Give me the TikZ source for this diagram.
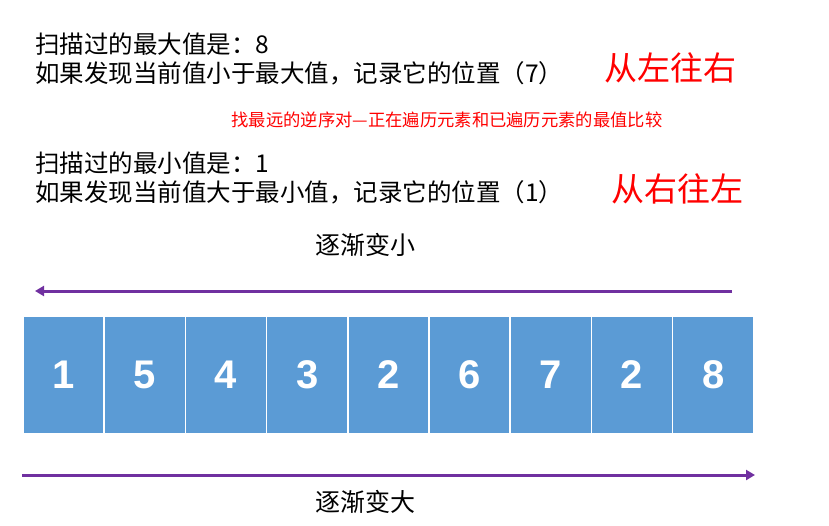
\documentclass[tikz,border=0pt]{standalone}
\usepackage{fontspec}
\usepackage{tikz}
\usetikzlibrary{arrows.meta, positioning}
\newfontfamily\cjk{Noto Sans CJK SC}
\newfontfamily\numfont{Liberation Sans}
\definecolor{cellblue}{RGB}{91,155,213}
\definecolor{arrowpurple}{RGB}{112,48,160}
\definecolor{hintred}{RGB}{255,0,0}

\begin{document}
\begin{tikzpicture}[
    x=1pt, y=-1pt,
    >={Triangle[length=9pt, width=10pt]},
    cell/.style={fill=cellblue, draw=white, line width=1.5pt, minimum width=81.2pt, minimum height=118pt, inner sep=0pt, outer sep=0pt, font=\numfont\fontsize{40}{40}\selectfont\bfseries, text=white},
    note/.style={anchor=west, align=left, inner sep=0pt, font=\cjk\fontsize{24.5}{29}\selectfont},
    dir/.style={inner sep=0pt, text=hintred, font=\cjk\fontsize{33}{33}\selectfont},
    trend/.style={inner sep=0pt, font=\cjk\fontsize{25}{25}\selectfont},
    scan/.style={->, arrowpurple, line width=3pt},
]
    \useasboundingbox (0,0) rectangle (829,525);

    % notes for the two scans
    \node[note] (maxnote) at (35,59) {扫描过的最大值是：8\\如果发现当前值小于最大值，记录它的位置（7）};
    \node[dir] (ltr) at (670,68) {从左往右};
    \node[inner sep=0pt, text=hintred, font=\cjk\fontsize{17.3}{17.3}\selectfont] (hint) at (447,120) {找最远的逆序对—正在遍历元素和已遍历元素的最值比较};
    \node[note] (minnote) at (35,178) {扫描过的最小值是：1\\如果发现当前值大于最小值，记录它的位置（1）};
    \node[dir] (rtl) at (677,189) {从右往左};

    % the array
    \node[cell] (c1) at (63.6,375) {1};
    \foreach \v [count=\i from 2, evaluate=\i as \j using int(\i-1)] in {5,4,3,2,6,7,2,8}
        \node[cell, right=0pt of c\j] (c\i) {\v};

    % arrows
    \coordinate (topr) at (732,291);
    \coordinate (topl) at (35,291);
    \coordinate (botl) at (22,475);
    \coordinate (botr) at (755,475);
    \draw[scan] (topr) -- (topl);
    \draw[scan] (botl) -- (botr);

    \node[trend] (small) at (365,245) {逐渐变小};
    \node[trend] (large) at (365,502) {逐渐变大};
\end{tikzpicture}
\end{document}
